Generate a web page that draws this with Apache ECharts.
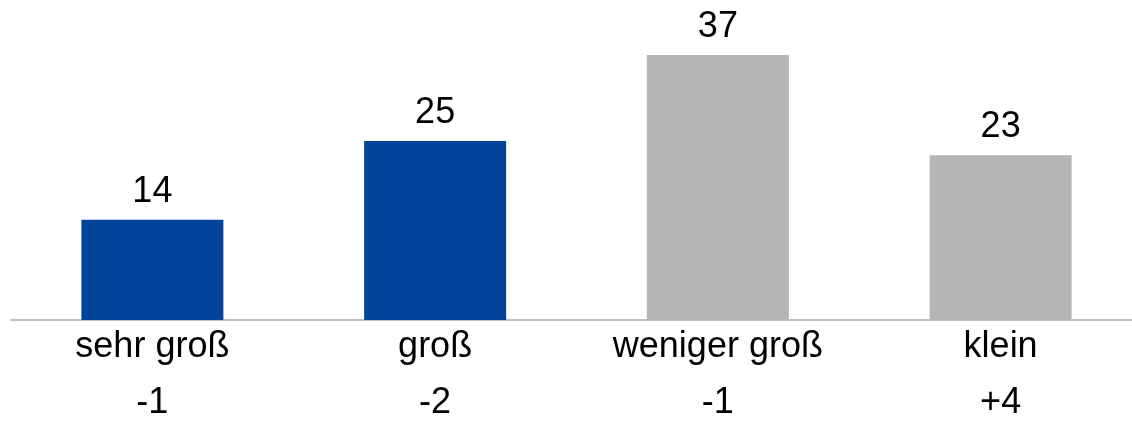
<!DOCTYPE html>
<html>
<head>
<meta charset="utf-8">
<script src="https://cdn.jsdelivr.net/npm/echarts@6/dist/echarts.min.js"></script>
<style>
html,body{margin:0;padding:0;background:#fff;overflow:hidden;width:1132px;height:430px;}
#chart{width:1142px;height:430px;}
</style>
</head>
<body>
<div id="chart"></div>
<script>
const categories = ['sehr groß', 'groß', 'weniger groß', 'klein'];
const values = [14, 25, 37, 23];
const changes = ['-1', '-2', '-1', '+4'];
const barColors = ['#02449A', '#02449A', '#B5B5B5', '#B5B5B5'];

const chart = echarts.init(document.getElementById('chart'), null, {renderer: 'canvas'});
const FONT = 'Liberation Sans, Arial, sans-serif';
chart.setOption({
  animation: false,
  grid: {left: 11, right: 0, top: 33.5, bottom: 110, containLabel: false},
  xAxis: {
    type: 'category',
    data: categories,
    axisLine: {show: true, lineStyle: {color: '#BFBFBF', width: 2}},
    axisTick: {show: false},
    axisLabel: {
      interval: 0,
      margin: 7,
      formatter: function (v, i) { return '{a|' + v + '}\n{b|' + changes[i] + '}'; },
      rich: {
        a: {fontSize: 36, fontFamily: FONT, color: '#000', lineHeight: 40},
        b: {fontSize: 36, fontFamily: FONT, color: '#000', lineHeight: 72}
      }
    }
  },
  yAxis: {
    type: 'value', min: 0, max: 40, show: false,
    splitLine: {show: false}
  },
  series: [{
    type: 'bar',
    barWidth: 142,
    data: values.map((v, i) => ({value: v, itemStyle: {color: barColors[i]}})),
    label: {
      show: true, position: 'top', distance: 10,
      fontSize: 36, fontFamily: FONT, color: '#000'
    }
  }]
});
</script>
</body>
</html>
